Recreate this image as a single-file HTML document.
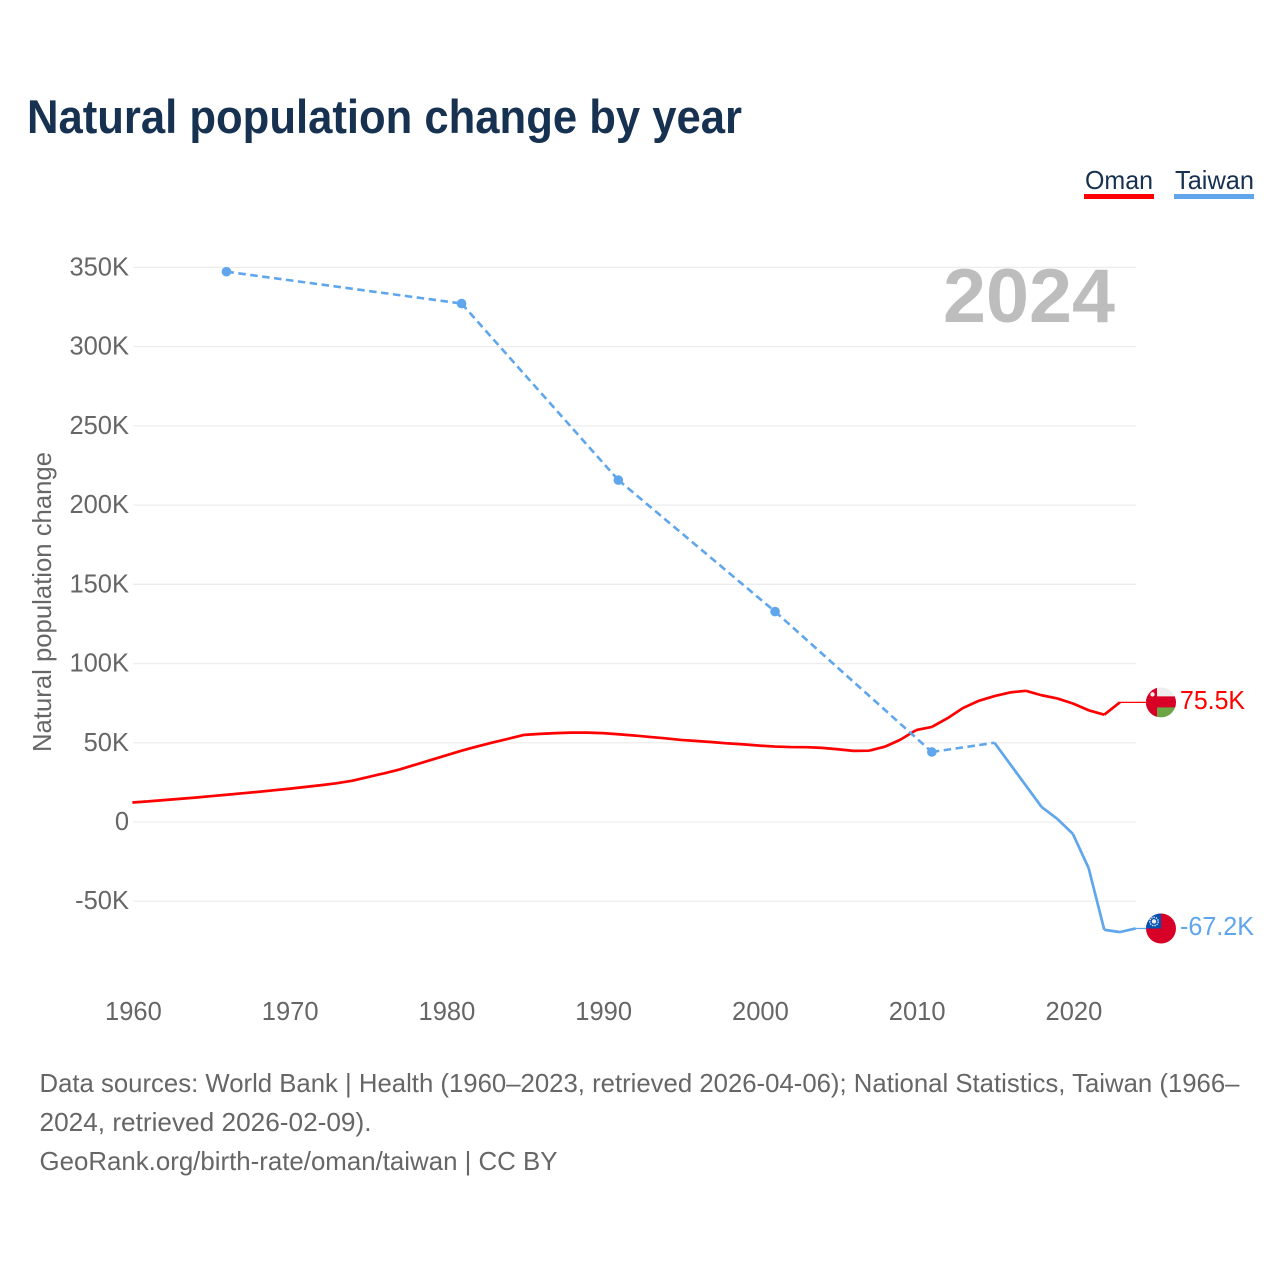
<!DOCTYPE html>
<html lang="en">
<head>
<meta charset="utf-8">
<title>Natural population change by year</title>
<style>
html,body{margin:0;padding:0;background:#fff;width:1280px;height:1280px;overflow:hidden}
svg{display:block}
text{font-family:"Liberation Sans",sans-serif}
</style>
</head>
<body>
<svg id="chart" xmlns="http://www.w3.org/2000/svg" width="1280" height="1280" viewBox="0 0 1280 1280">
  <rect width="1280" height="1280" fill="#fff"/>
  <text x="27" y="133" font-size="47" font-weight="700" fill="#173151" textLength="715" lengthAdjust="spacingAndGlyphs">Natural population change by year</text>

  <g>
    <text x="1085" y="189" font-size="26" fill="#173151" textLength="68" lengthAdjust="spacingAndGlyphs">Oman</text>
    <rect x="1084" y="194" width="70" height="5" fill="#ff0000"/>
  </g>
  <g>
    <text x="1175" y="189" font-size="26" fill="#173151" textLength="79" lengthAdjust="spacingAndGlyphs">Taiwan</text>
    <rect x="1174" y="194" width="80" height="5" fill="#5fa6ec"/>
  </g>

  <text transform="translate(51,752) rotate(-90)" font-size="26" fill="#666" textLength="300" lengthAdjust="spacingAndGlyphs">Natural population change</text>

  <g id="grid"></g>
  <g id="yticks"></g>
  <g id="xticks"></g>

  <text x="943" y="322" font-size="76" font-weight="700" fill="#bdbdbd" textLength="172" lengthAdjust="spacingAndGlyphs">2024</text>

  <g id="series"></g>

  <defs>
    <clipPath id="flag-clip"><circle cx="0" cy="0" r="15"/></clipPath>
  </defs>

  <g id="flag-oman">
    <g clip-path="url(#flag-clip)">
      <rect x="-15" y="-15" width="30" height="30" fill="#eeeeee"/>
      <rect x="-15" y="4" width="30" height="11" fill="#6da544"/>
      <rect x="-15" y="-6" width="30" height="11" fill="#d80027"/>
      <rect x="-15" y="-15" width="11" height="30" fill="#d80027"/>
      <circle cx="-8.5" cy="-8" r="2.2" fill="#eeeeee"/>
    </g>
  </g>
  <g id="flag-taiwan">
    <g clip-path="url(#flag-clip)">
      <rect x="-15" y="-16" width="30" height="31" fill="#d80027"/>
      <rect x="-15" y="-16" width="15" height="16" fill="#0052b4"/>
      <circle cx="-7" cy="-7" r="4.2" fill="none" stroke="#eeeeee" stroke-width="1.4" stroke-dasharray="1.4 1"/>
      <circle cx="-7" cy="-7" r="2.2" fill="#eeeeee"/>
    </g>
  </g>
  <text id="label-oman" x="1180" font-size="26" fill="#ff0000" textLength="65" lengthAdjust="spacingAndGlyphs"></text>
  <text id="label-taiwan" x="1180" font-size="26" fill="#5fa6ec" textLength="74" lengthAdjust="spacingAndGlyphs"></text>

  <g font-size="26" fill="#666">
    <text x="39.5" y="1092" textLength="1200" lengthAdjust="spacingAndGlyphs">Data sources: World Bank | Health (1960–2023, retrieved 2026-04-06); National Statistics, Taiwan (1966–</text>
    <text x="39.5" y="1131" textLength="332" lengthAdjust="spacingAndGlyphs">2024, retrieved 2026-02-09).</text>
    <text x="39.5" y="1170" textLength="518" lengthAdjust="spacingAndGlyphs">GeoRank.org/birth-rate/oman/taiwan | CC BY</text>
  </g>
</svg>

<script>
const xTickYears = [1960, 1970, 1980, 1990, 2000, 2010, 2020];
const yTickValues = [350, 300, 250, 200, 150, 100, 50, 0, -50];
const yTickLabels = ['350K', '300K', '250K', '200K', '150K', '100K', '50K', '0', '-50K'];

const omanYears = [1960,1961,1962,1963,1964,1965,1966,1967,1968,1969,1970,1971,1972,1973,1974,1975,1976,1977,1978,1979,1980,1981,1982,1983,1984,1985,1986,1987,1988,1989,1990,1991,1992,1993,1994,1995,1996,1997,1998,1999,2000,2001,2002,2003,2004,2005,2006,2007,2008,2009,2010,2011,2012,2013,2014,2015,2016,2017,2018,2019,2020,2021,2022,2023];
const omanValues = [12.3,13.0,13.8,14.6,15.4,16.3,17.2,18.1,19.0,20.0,21.0,22.1,23.2,24.4,26.0,28.3,30.6,33.0,36.0,39.0,42.0,45.0,47.7,50.2,52.6,55.0,55.6,56.1,56.4,56.4,56.1,55.4,54.6,53.7,52.8,51.8,51.1,50.4,49.6,49.0,48.2,47.6,47.3,47.2,46.8,45.9,44.9,45.0,47.5,52.0,58.0,60.0,65.5,72.0,76.5,79.5,81.8,82.8,80.0,78.0,74.8,70.5,67.7,75.5];

const taiwanYears = [1966,1981,1991,2001,2011,2015,2016,2017,2018,2019,2020,2021,2022,2023,2024];
const taiwanValues = [347.3,327.2,215.8,132.8,44.2,50.0,36.5,23.0,9.5,2.0,-7.5,-29.0,-68.0,-69.5,-67.2];

const SVG_NS = 'http://www.w3.org/2000/svg';
const plotLeft = 133, plotRight = 1136, flagCx = 1161, leaderEnd = 1146;

function xScale(year) { return 132.4 + (year - 1960) * 15.675; }
function yScale(k) { return 822 - k * 1.5845; }
function make(tag, attrs, parent) {
  const el = document.createElementNS(SVG_NS, tag);
  for (const k in attrs) el.setAttribute(k, attrs[k]);
  parent.appendChild(el);
  return el;
}

const grid = document.getElementById('grid');
const yticks = document.getElementById('yticks');
const xticks = document.getElementById('xticks');
const series = document.getElementById('series');

yTickValues.forEach(function (v, i) {
  const line = make('line', {x1: plotLeft, x2: plotRight, y1: yScale(v), y2: yScale(v), stroke: '#ededed', 'stroke-width': 1.3}, grid);
  
  
  const t = make('text', {x: 129, y: yScale(v) + 8, 'text-anchor': 'end', 'font-size': 25.5, fill: '#666'}, yticks);
  t.textContent = yTickLabels[i];
  
  
});

xTickYears.forEach(function (yr) {
  const t = make('text', {x: xScale(yr) + 1, y: 1020, 'text-anchor': 'middle', 'font-size': 25.5, fill: '#666'}, xticks);
  t.textContent = String(yr);
  
  
});

function drawSeries(years, values, color, name) {
  let solid = '';
  let dashed = '';
  for (let i = 1; i < years.length; i++) {
    const seg = 'M' + xScale(years[i - 1]).toFixed(2) + ' ' + yScale(values[i - 1]).toFixed(2) + 'L' + xScale(years[i]).toFixed(2) + ' ' + yScale(values[i]).toFixed(2);
    if (years[i] - years[i - 1] > 1) dashed += seg; else solid += seg;
  }
  if (dashed) {
    const d = make('path', {d: dashed, fill: 'none', stroke: color, 'stroke-width': 2.6, 'stroke-dasharray': '7.5 4.5'}, series);
    
    
  }
  const s = make('path', {d: solid, fill: 'none', stroke: color, 'stroke-width': 2.7, 'stroke-linejoin': 'round'}, series);
  
  
  years.forEach(function (yr, i) {
    const prevAdj = i > 0 && yr - years[i - 1] === 1;
    const nextAdj = i < years.length - 1 && years[i + 1] - yr === 1;
    if (!prevAdj && !nextAdj) {
      const c = make('circle', {cx: xScale(yr), cy: yScale(values[i]), r: 4.8, fill: color}, series);
      
      
    }
  });
  const lastY = yScale(values[values.length - 1]);
  const lead = make('line', {x1: xScale(years[years.length - 1]), x2: leaderEnd, y1: lastY, y2: lastY, stroke: color, 'stroke-width': 1.3}, series);
  
  
  const flag = document.getElementById('flag-' + name);
  flag.setAttribute('transform', 'translate(' + flagCx + ',' + lastY + ')');
  const label = document.getElementById('label-' + name);
  label.setAttribute('y', lastY + 6.5);
  label.textContent = values[values.length - 1].toFixed(1) + 'K';
}

drawSeries(omanYears, omanValues, '#ff0000', 'oman');
drawSeries(taiwanYears, taiwanValues, '#5fa6ec', 'taiwan');
</script>
</body>
</html>
